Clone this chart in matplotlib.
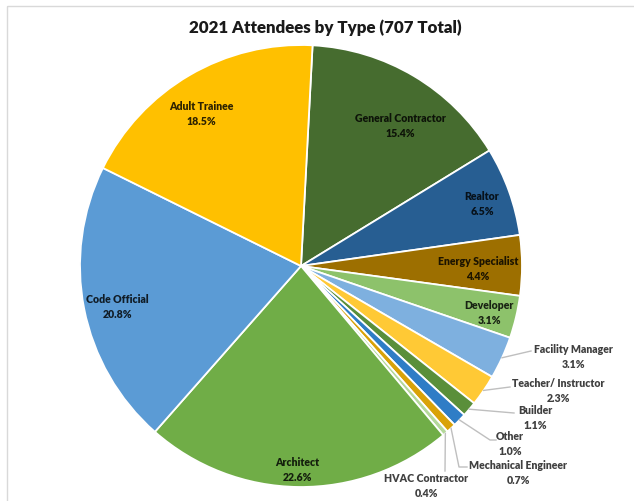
import numpy as np
import matplotlib
matplotlib.use("Agg")
import matplotlib.pyplot as plt
from matplotlib.colors import to_rgb
from matplotlib.patches import Rectangle

# Daten ------------------------------------------------------------------------
categories = ["General Contractor", "Realtor", "Energy Specialist", "Developer",
              "Facility Manager", "Teacher/ Instructor", "Builder", "Other",
              "Mechanical Engineer", "HVAC Contractor", "Architect",
              "Code Official", "Adult Trainee"]
shares = [15.4, 6.5, 4.4, 3.1, 3.1, 2.3, 1.1, 1.0, 0.7, 0.4, 22.6, 20.8, 18.5]
colors = ["#466C2F", "#275E92", "#9D6F00", "#8DC26B", "#7EB0DF", "#FFC935",
          "#5A8F3A", "#2F7DC6", "#D9A208", "#B4D89A", "#70AD47", "#5B9BD5",
          "#FFC000"]
title = "2021 Attendees by Type (707 Total)"

# Layout (Pixel, y nach unten) -------------------------------------------------
W, H = 634, 501
cx, cy, R = 301, 266, 221

inside_xy = {"General Contractor": (400, 126), "Realtor": (482, 204),
             "Energy Specialist": (478, 269), "Developer": (489, 313),
             "Architect": (297, 470), "Code Official": (117, 307),
             "Adult Trainee": (201, 114)}
# Text-Mitte und Knickpunkte der Führungslinien
outside = {"Facility Manager": ((573, 357), [(531, 351)]),
           "Teacher/ Instructor": ((558, 391), [(510, 387)]),
           "Builder": ((535, 418), [(514, 413)]),
           "Other": ((510, 444), [(490, 440), (496, 440)]),
           "Mechanical Engineer": ((518, 473), [(459, 467), (467, 467)]),
           "HVAC Contractor": ((426, 486), [(445, 471)])}

font = "Lato"

# Grafik -----------------------------------------------------------------------
fig = plt.figure(figsize=(W / 100, H / 100), dpi=100)
ax = fig.add_axes([0, 0, 1, 1])

wedges, _ = ax.pie(shares, colors=colors, center=(cx, cy), radius=R,
                   startangle=273, counterclock=True, normalize=True,
                   wedgeprops=dict(edgecolor="white", linewidth=1.3))

# pie() setzt eigene Grenzen -> danach auf Pixelkoordinaten stellen
ax.set_xlim(0, W)
ax.set_ylim(H, 0)
ax.set_aspect("equal")
ax.axis("off")

# heller Rahmen
ax.add_patch(Rectangle((7, 6), W, H, fill=False, edgecolor="#D9D9D9", lw=1))

for w, name, share, col in zip(wedges, categories, shares, colors):
    label = f"{name}\n{share:.1f}%"
    if name in inside_xy:
        tc = tuple(c * 0.18 for c in to_rgb(col))
        x, y = inside_xy[name]
        ax.text(x, y, label, ha="center", va="center", fontsize=7.6,
                fontweight="heavy", color=tc, family=font, linespacing=1.5)
    else:
        ang = np.deg2rad((w.theta1 + w.theta2) / 2)
        sx, sy = cx + R * np.cos(ang), cy + R * np.sin(ang)
        (tx, ty), pts = outside[name]
        xs = [sx] + [p[0] for p in pts]
        ys = [sy] + [p[1] for p in pts]
        ax.plot(xs, ys, color="#BFBFBF", lw=1)
        ax.text(tx, ty, label, ha="center", va="center", fontsize=7.6,
                fontweight="heavy", color="#404040", family=font,
                linespacing=1.5)

ax.text(325, 28, title, ha="center", va="center", fontsize=12.2,
        fontweight="heavy", color="#1A1A1A", family=font)

fig.savefig("out.png", dpi=100)
